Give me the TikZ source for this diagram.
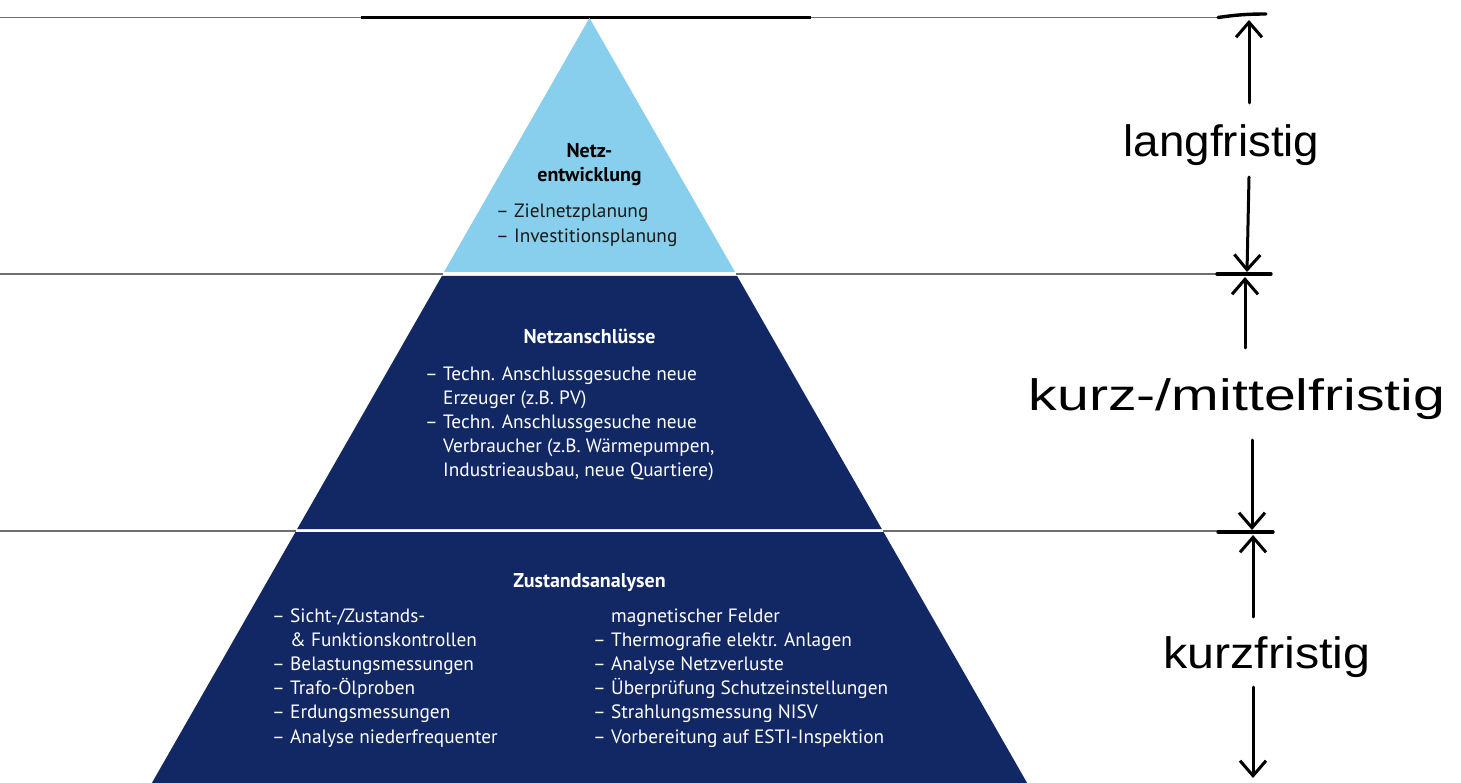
\documentclass[tikz,border=0pt]{standalone}
\usepackage{fontspec}
\setmainfont{PT Sans}
\newfontfamily\handfont{Liberation Sans}
\usetikzlibrary{arrows.meta}
\definecolor{navy}{RGB}{18,40,101}
\definecolor{sky}{RGB}{135,207,236}
\definecolor{rulegray}{RGB}{110,110,110}
\newcommand{\dsh}{\makebox[18pt][l]{--}}
\newcommand{\ind}{\hspace*{18pt}}
\begin{document}
\begin{tikzpicture}[x=1pt,y=-1pt,
  rulel/.style={draw=rulegray,line width=1.2pt},
  topbar/.style={draw=black,line width=2.4pt},
  head/.style={font=\fontsize{20}{24}\selectfont\bfseries, inner sep=0, anchor=base},
  body/.style={font=\fontsize{19.3}{24.2}\selectfont, inner sep=0, anchor=base west},
  hand/.style={line width=3pt, line cap=round, line join=round},
  harrow/.style={hand, -{Straight Barb[length=15pt,width=26pt]}},
  lbl/.style={font=\handfont\fontsize{44}{50}\selectfont, inner sep=0, anchor=base}
]
\useasboundingbox (0,0) rectangle (1461,783);
\fill[white] (0,0) rectangle (1461,783);

% horizontal rules
\draw[rulel] (0,17.5) -- (361,17.5);
\draw[topbar] (361,17.5) -- (811,17.5);
\draw[rulel] (811,17.5) -- (1218,17.5);
\draw[rulel] (0,274) -- (443,274);
\draw[rulel] (736,274) -- (1217,274);
\draw[rulel] (0,531) -- (296,531);
\draw[rulel] (883,531) -- (1218,531);

% pyramid
\fill[sky] (589.5,18) -- (735,272) -- (444,272) -- cycle;
\fill[navy] (441.9,276) -- (737.1,276) -- (881.8,529) -- (297.2,529) -- cycle;
\fill[navy] (295.5,532) -- (883.5,532) -- (1027.7,784) -- (151.3,784) -- cycle;

% top tier text
\node[head, text=black] (h1a) at (589.5,158) {Netz-};
\node[head, text=black] (h1b) at (589.5,182) {entwicklung};
\node[body, text=black!90] (b1) at (496,218) {\begin{tabular}[t]{@{}l@{}}
\dsh Zielnetzplanung\\
\dsh Investitionsplanung
\end{tabular}};

% middle tier text
\node[head, text=white] (h2) at (589.5,344) {Netzanschlüsse};
\node[body, text=white] (b2) at (425,380) {\begin{tabular}[t]{@{}l@{}}
\dsh Techn. Anschlussgesuche neue\\
\ind Erzeuger (z.B. PV)\\
\dsh Techn. Anschlussgesuche neue\\
\ind Verbraucher (z.B. Wärmepumpen,\\
\ind Industrieausbau, neue Quartiere)
\end{tabular}};

% bottom tier text
\node[head, text=white] (h3) at (589.5,587) {Zustandsanalysen};
\node[body, text=white] (b3l) at (272,622) {\begin{tabular}[t]{@{}l@{}}
\dsh Sicht-/Zustands-\\
\ind \& Funktionskontrollen\\
\dsh Belastungsmessungen\\
\dsh Trafo-Ölproben\\
\dsh Erdungsmessungen\\
\dsh Analyse niederfrequenter
\end{tabular}};
\node[body, text=white] (b3r) at (593,622) {\begin{tabular}[t]{@{}l@{}}
\ind magnetischer Felder\\
\dsh Thermografie elektr. Anlagen\\
\dsh Analyse Netzverluste\\
\dsh Überprüfung Schutzeinstellungen\\
\dsh Strahlungsmessung NISV\\
\dsh Vorbereitung auf ESTI-Inspektion
\end{tabular}};

% right-hand time scale
\node[lbl, xscale=1.04] (lang) at (1221.5,157) {langfristig};
\node[lbl, xscale=1.3] (kmf) at (1237,410) {kurz-/mittelfristig};
\node[lbl, xscale=1.1] (kurz) at (1267,668) {kurzfristig};

\coordinate (t0) at (1249,20);
\coordinate (t1u) at (1247,272);
\coordinate (t1d) at (1245,277);
\coordinate (t2u) at (1252,530);
\coordinate (t2d) at (1253,535);
\coordinate (tend) at (1253,778);
\coordinate (s1) at (1249,103);
\coordinate (s2) at (1249,177);
\coordinate (s3) at (1245,348);
\coordinate (s4) at (1252,440);
\coordinate (s5) at (1253,617);
\coordinate (s6) at (1253,687);

\draw[hand, line width=3.4pt] (1218,17.5) to[bend left=4] (1266,14);
\draw[hand, line width=3.4pt] (1217,274) -- (1271,274);
\draw[hand, line width=3.4pt] (1218,532) -- (1273,532);

\draw[harrow] (s1) -- (t0);
\draw[harrow] (s2) -- (t1u);
\draw[harrow] (s3) -- (t1d);
\draw[harrow] (s4) -- (t2u);
\draw[harrow] (s5) -- (t2d);
\draw[harrow] (s6) -- (tend);
\end{tikzpicture}
\end{document}
